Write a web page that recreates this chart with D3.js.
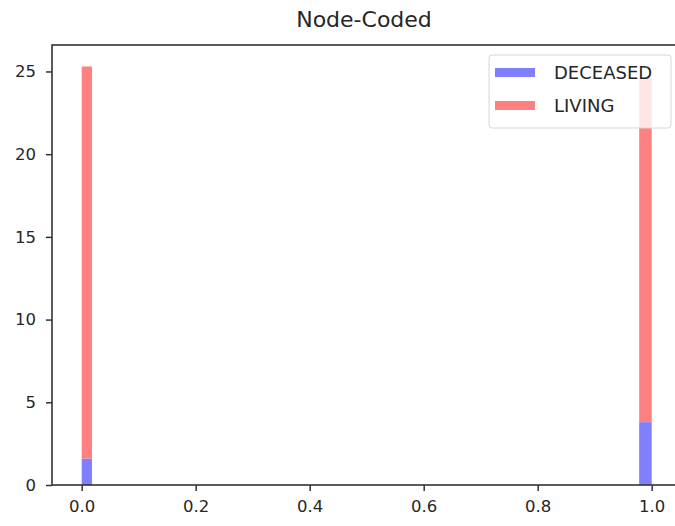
<!DOCTYPE html>
<html>
<head>
<meta charset="utf-8">
<script src="https://cdn.jsdelivr.net/npm/d3@7"></script>
<style>
  body { margin: 0; background: #fff; overflow: hidden; }
  text { font-family: "DejaVu Sans", sans-serif; fill: #262626; }
</style>
</head>
<body>
<script>
// histogram bins (node-coded 0 / 1)
var binStart = [0, 0.978];
var binEnd = [0.018, 1.0];
var deceased = [1.6, 3.8];
var living = [23.7, 20.8];
var xTicks = [0.0, 0.2, 0.4, 0.6, 0.8, 1.0];
var yTicks = [0, 5, 10, 15, 20, 25];
var seriesNames = ["DECEASED", "LIVING"];
var seriesColors = ["#8080ff", "#ff8080"];

var width = 675, height = 526;

var svg = d3.select("body").append("svg")
    .attr("width", width)
    .attr("height", height);

var x = d3.scaleLinear().domain([0, 1]).range([81.7, 651.7]);
var y = d3.scaleLinear().domain([0, 26.6]).range([485, 45]);

// right spine sits past the edge of the picture
var plotLeft = 52, plotRight = 710, plotTop = y(26.6), plotBottom = y(0);

// stacked bars
var bins = binStart.map(function(d, i) {
  return { x0: d, x1: binEnd[i], d: deceased[i], l: living[i] };
});

svg.selectAll("rect.dec")
    .data(bins)
    .enter().append("rect")
    .attr("class", "dec")
    .attr("x", function(d) { return x(d.x0); })
    .attr("width", function(d) { return x(d.x1) - x(d.x0); })
    .attr("y", function(d) { return y(d.d); })
    .attr("height", function(d) { return y(0) - y(d.d); })
    .attr("fill", seriesColors[0]);

svg.selectAll("rect.liv")
    .data(bins)
    .enter().append("rect")
    .attr("class", "liv")
    .attr("x", function(d) { return x(d.x0); })
    .attr("width", function(d) { return x(d.x1) - x(d.x0); })
    .attr("y", function(d) { return y(d.d + d.l); })
    .attr("height", function(d) { return y(d.d) - y(d.d + d.l); })
    .attr("fill", seriesColors[1]);

// axes
var xAxis = d3.axisBottom(x).tickValues(xTicks).tickFormat(d3.format(".1f")).tickSize(6).tickPadding(9);
var yAxis = d3.axisLeft(y).tickValues(yTicks).tickSize(6).tickPadding(10);

var gx = svg.append("g").attr("transform", "translate(0," + plotBottom + ")").call(xAxis);
var gy = svg.append("g").attr("transform", "translate(" + plotLeft + ",0)").call(yAxis);

[gx, gy].forEach(function(g) {
  g.select(".domain").remove();
  g.selectAll(".tick line").attr("stroke", "#333").attr("stroke-width", 1.5);
  g.selectAll(".tick text").attr("font-size", 16.5).attr("fill", "#333");
});

// spines
svg.append("rect")
    .attr("x", plotLeft).attr("y", plotTop)
    .attr("width", plotRight - plotLeft).attr("height", plotBottom - plotTop)
    .attr("fill", "none").attr("stroke", "#333").attr("stroke-width", 1.6);

// title
svg.append("text")
    .attr("x", 364).attr("y", 27)
    .attr("text-anchor", "middle")
    .attr("font-size", 22)
    .text("Node-Coded");

// legend
var legend = svg.append("g");
legend.append("rect")
    .attr("x", 489).attr("y", 55)
    .attr("width", 182).attr("height", 73)
    .attr("rx", 3)
    .attr("fill", "#fff").attr("fill-opacity", 0.8)
    .attr("stroke", "#d6d6d6");

var items = legend.selectAll("g.item")
    .data(seriesNames)
    .enter().append("g")
    .attr("class", "item")
    .attr("transform", function(d, i) { return "translate(0," + (72.5 + i * 33) + ")"; });

items.append("rect")
    .attr("x", 495).attr("y", -4.5)
    .attr("width", 40).attr("height", 9)
    .attr("fill", function(d, i) { return seriesColors[i]; });

items.append("text")
    .attr("x", 554).attr("y", 6.5)
    .attr("font-size", 18)
    .text(function(d) { return d; });
</script>
</body>
</html>
